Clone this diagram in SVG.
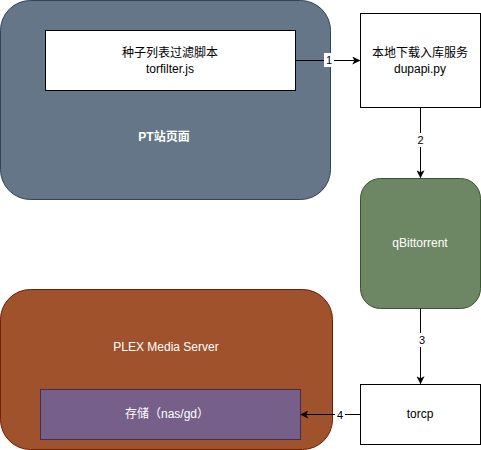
<svg xmlns="http://www.w3.org/2000/svg" width="481" height="450" viewBox="0 0 481 450">
<style>
text{font-family:"Liberation Sans","Noto Sans CJK SC",sans-serif;font-size:12px;text-anchor:middle}
.w{fill:#ffffff}
.b{font-weight:bold}
.k{fill:#000000}
.lbl{font-size:11px}
.edge{stroke:#000;stroke-width:1;fill:none}
</style>
<defs>
<marker id="ah" viewBox="0 0 10 10" refX="9" refY="5" markerWidth="8" markerHeight="8" markerUnits="userSpaceOnUse" orient="auto">
<path d="M0,0 L10,5 L0,10 L2.5,5 Z" fill="#000"/>
</marker>
</defs>
<rect width="481" height="450" fill="#ffffff"/>
<g id="pt-site">
<rect x="0.5" y="0.5" width="330" height="199" rx="30" fill="#647687" stroke="#314354"/>
<text x="164" y="141" class="w b">PT站页面</text>
</g>
<g id="torfilter">
<rect x="45.5" y="30.5" width="250" height="60" fill="#ffffff" stroke="#000"/>
<text x="170" y="57" class="k">种子列表过滤脚本</text>
<text x="170" y="73" class="k">torfilter.js</text>
</g>
<g id="dupapi">
<rect x="360.5" y="13.5" width="120" height="94" fill="#ffffff" stroke="#000"/>
<text x="420" y="57" class="k">本地下载入库服务</text>
<text x="420" y="73" class="k">dupapi.py</text>
</g>
<g id="qbittorrent">
<rect x="360.5" y="178.5" width="120" height="130" rx="20" fill="#6d8764" stroke="#3a5431"/>
<text x="420" y="247" class="w">qBittorrent</text>
</g>
<g id="plex">
<rect x="0.5" y="289.5" width="332" height="160" rx="30" fill="#a0522d" stroke="#6d1f00"/>
<text x="166" y="351" class="w">PLEX Media Server</text>
</g>
<g id="storage">
<rect x="40.5" y="389.5" width="260" height="50" fill="#76608a" stroke="#432d57"/>
<text x="167" y="418" class="w">存储（nas/gd）</text>
</g>
<g id="torcp">
<rect x="360.5" y="384.5" width="120" height="60" fill="#ffffff" stroke="#000"/>
<text x="420" y="418" class="k">torcp</text>
</g>
<g id="connectors">
<line x1="295.5" y1="60.5" x2="359.5" y2="60.5" class="edge" marker-end="url(#ah)"/>
<rect x="324" y="53" width="10" height="14" fill="#ffffff"/>
<text x="329" y="64" class="k lbl">1</text>
<line x1="420.5" y1="107.5" x2="420.5" y2="177.5" class="edge" marker-end="url(#ah)"/>
<rect x="415" y="133" width="11" height="14" fill="#ffffff"/>
<text x="420.5" y="144" class="k lbl">2</text>
<line x1="420.5" y1="308.5" x2="420.5" y2="383.5" class="edge" marker-end="url(#ah)"/>
<rect x="416" y="333" width="11" height="14" fill="#ffffff"/>
<text x="422" y="344" class="k lbl">3</text>
<line x1="360.5" y1="414.5" x2="301" y2="414.5" class="edge" marker-end="url(#ah)"/>
<rect x="335" y="408" width="10" height="14" fill="#ffffff"/>
<text x="340" y="419" class="k lbl">4</text>
</g>
</svg>
